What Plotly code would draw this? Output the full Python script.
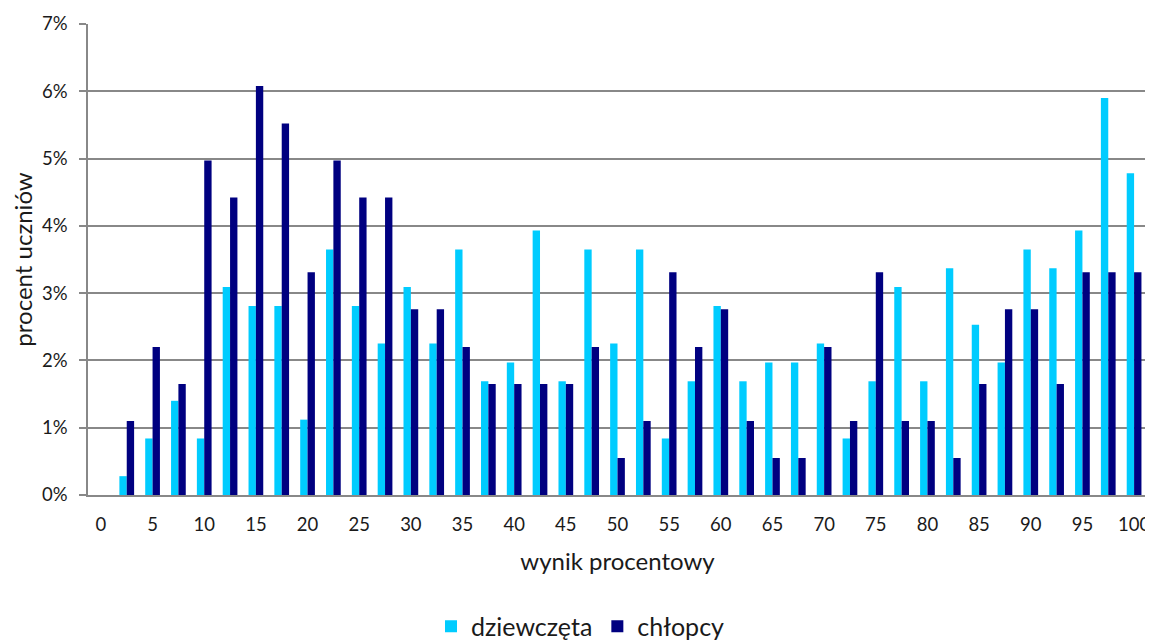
import plotly.graph_objects as go

wynik = [i * 2.5 for i in range(41)]
tick_vals = list(range(0, 101, 5))
tick_text = [str(v) for v in tick_vals]

dziewczeta = [0, 0.28, 0.84, 1.40, 0.84, 3.09, 2.81, 2.81, 1.12, 3.65, 2.81,
              2.25, 3.09, 2.25, 3.65, 1.69, 1.97, 3.93, 1.69, 3.65, 2.25,
              3.65, 0.84, 1.69, 2.81, 1.69, 1.97, 1.97, 2.25, 0.84, 1.69,
              3.09, 1.69, 3.37, 2.53, 1.97, 3.65, 3.37, 3.93, 5.90, 4.78]
chlopcy = [0, 1.10, 2.20, 1.65, 4.97, 4.42, 6.08, 5.52, 3.31, 4.97, 4.42,
           4.42, 2.76, 2.76, 2.20, 1.65, 1.65, 1.65, 1.65, 2.20, 0.55,
           1.10, 3.31, 2.20, 2.76, 1.10, 0.55, 0.55, 2.20, 1.10, 3.31,
           1.10, 1.10, 0.55, 1.65, 2.76, 2.76, 1.65, 3.31, 3.31, 3.31]

y_ticks = list(range(0, 8))
y_text = [f"{v}%" for v in y_ticks]

FONT = "Lato, Carlito, Calibri, sans-serif"

fig = go.Figure()
fig.add_trace(go.Bar(x=wynik, y=dziewczeta, name="dziewczęta",
                     marker=dict(color="#00CCFF", line=dict(width=0))))
fig.add_trace(go.Bar(x=wynik, y=chlopcy, name="chłopcy",
                     marker=dict(color="#000080", line=dict(width=0))))

# page body has an 8px margin, so the figure is 8px smaller and shifted
fig.update_layout(
    width=1145, height=635,
    margin=dict(l=80, r=6, t=16, b=148, autoexpand=False),
    paper_bgcolor="white", plot_bgcolor="white",
    barmode="group", bargap=0.43, bargroupgap=0,
    font=dict(family=FONT, color="#1a1a1a", size=19),
    showlegend=True,
    legend=dict(orientation="h", x=0.5, xref="container", xanchor="center",
                y=0.026, yref="container", yanchor="middle",
                font=dict(size=25), traceorder="normal", itemwidth=30),
    xaxis=dict(
        range=[-1.25, 101.25], tickmode="array", tickvals=tick_vals, ticktext=tick_text,
        showgrid=False, showline=True, linecolor="#888888", linewidth=1.5,
        ticks="", ticklabelstandoff=12, tickfont=dict(size=18.5),
        title=dict(text="wynik procentowy", font=dict(size=24), standoff=19),
        zeroline=False, automargin=False,
    ),
    yaxis=dict(
        range=[0, 7], tickmode="array", tickvals=y_ticks, ticktext=y_text,
        showgrid=True, gridcolor="#888888", gridwidth=1.5,
        showline=True, linecolor="#888888", linewidth=1.5,
        ticks="outside", ticklen=7, tickcolor="#888888", tickwidth=1.5,
        ticklabelstandoff=8, tickfont=dict(size=18.5),
        title=dict(text="procent uczniów", font=dict(size=24), standoff=3),
        zeroline=False, automargin=False,
    ),
)

fig.write_html("out.html")
